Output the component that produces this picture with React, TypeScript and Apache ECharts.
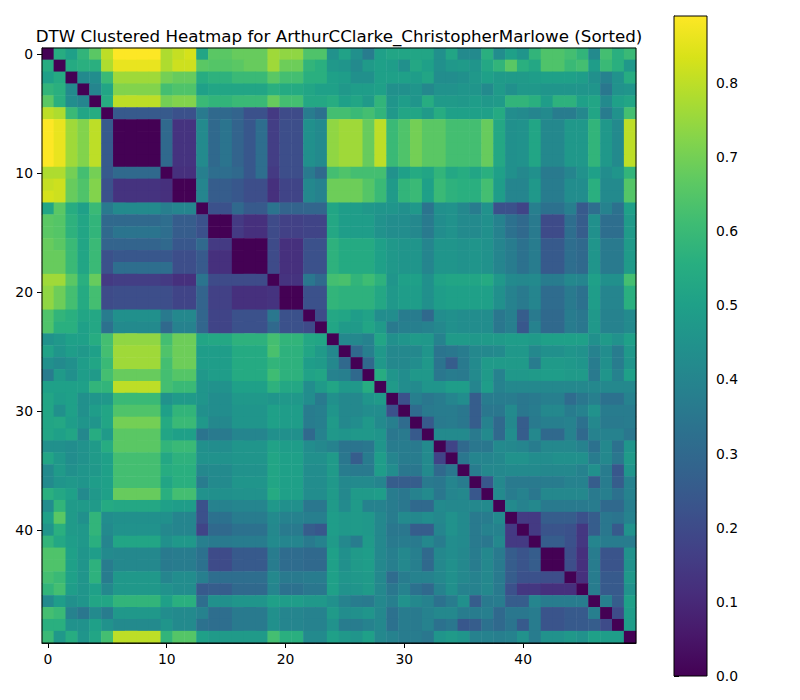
import React, { useEffect, useRef } from "react";
import * as echarts from "echarts";

const TITLE = "DTW Clustered Heatmap for ArthurCClarke_ChristopherMarlowe (Sorted)";
const categories: string[] = Array.from({ length: 50 }, (_, i) => String(i));
const colorbarTicks = [0, 0.1, 0.2, 0.3, 0.4, 0.5, 0.6, 0.7, 0.8];

// Upper triangle of the symmetric DTW distance matrix: row i lists columns i..49
const r00 = [0, .55, .50, .58, .66, .80, .89, .89, .89, .89, .78, .81, .83, .52, .66, .66, .68, .68, .68, .76, .74, .74, .64, .64, .45, .51, .44, .37, .50, .52, .52, .52, .52, .44, .52, .42, .42, .56, .43, .50, .46, .58, .64, .64, .62, .58, .42, .62, .56, .60];
const r01 = [0, .54, .56, .56, .78, .86, .86, .86, .86, .78, .82, .82, .66, .65, .65, .66, .68, .68, .76, .69, .69, .58, .56, .47, .46, .42, .48, .50, .49, .44, .53, .50, .44, .47, .48, .46, .53, .58, .66, .56, .53, .64, .64, .60, .62, .49, .60, .56, .47];
const r02 = [0, .42, .43, .60, .76, .76, .76, .76, .70, .68, .68, .55, .57, .57, .60, .60, .60, .66, .62, .62, .56, .56, .50, .49, .44, .44, .50, .50, .50, .49, .52, .43, .43, .44, .47, .50, .48, .48, .48, .49, .50, .50, .50, .49, .44, .39, .45, .55];
const r03 = [0, .40, .52, .72, .72, .72, .72, .62, .64, .64, .50, .52, .52, .52, .52, .52, .56, .54, .54, .52, .50, .50, .47, .49, .49, .50, .44, .44, .46, .41, .45, .45, .46, .46, .42, .48, .44, .47, .47, .46, .46, .46, .46, .46, .35, .45, .46];
const r04 = [0, .55, .80, .80, .80, .80, .70, .72, .72, .60, .58, .58, .60, .60, .60, .68, .62, .62, .53, .53, .55, .50, .52, .48, .58, .46, .49, .46, .55, .48, .48, .47, .49, .47, .48, .58, .58, .56, .49, .57, .57, .50, .52, .42, .50, .52];
const r05 = [0, .25, .25, .25, .25, .25, .22, .22, .36, .30, .30, .28, .22, .22, .15, .20, .20, .37, .33, .62, .62, .60, .62, .58, .47, .52, .52, .48, .55, .50, .50, .50, .50, .54, .43, .42, .40, .42, .37, .37, .41, .52, .37, .45, .62];
const r06 = [0, 0, 0, 0, .30, .13, .13, .42, .30, .34, .28, .24, .32, .16, .21, .21, .44, .42, .74, .76, .76, .68, .80, .60, .64, .70, .66, .66, .62, .62, .62, .68, .53, .44, .45, .52, .41, .41, .47, .47, .58, .47, .42, .80];
const r07 = [0, 0, 0, .30, .13, .13, .42, .30, .34, .28, .24, .32, .16, .21, .21, .44, .42, .74, .76, .76, .68, .80, .60, .64, .70, .66, .66, .62, .62, .62, .68, .53, .44, .45, .52, .41, .41, .47, .47, .58, .47, .42, .80];
const r08 = [0, 0, .30, .13, .13, .42, .30, .34, .28, .24, .32, .16, .21, .21, .44, .42, .74, .76, .76, .68, .80, .60, .64, .70, .66, .66, .62, .62, .62, .68, .53, .44, .45, .52, .41, .41, .47, .47, .58, .47, .42, .80];
const r09 = [0, .30, .13, .13, .42, .30, .34, .28, .24, .32, .16, .21, .21, .44, .42, .74, .76, .76, .68, .80, .60, .64, .70, .66, .66, .62, .62, .62, .68, .53, .44, .45, .52, .41, .41, .47, .47, .58, .47, .42, .80];
const r10 = [0, .12, .12, .38, .32, .32, .30, .24, .32, .15, .21, .21, .36, .30, .62, .64, .62, .62, .62, .45, .50, .54, .52, .58, .53, .55, .52, .56, .50, .44, .41, .44, .36, .36, .40, .45, .50, .43, .46, .58];
const r11 = [0, 0, .40, .26, .26, .24, .21, .21, .12, .18, .18, .41, .39, .69, .69, .69, .65, .60, .48, .58, .60, .50, .60, .57, .56, .56, .62, .49, .40, .40, .47, .37, .37, .43, .43, .56, .42, .42, .65];
const r12 = [0, .40, .26, .26, .24, .21, .21, .12, .18, .18, .41, .39, .69, .69, .69, .65, .60, .48, .58, .60, .50, .60, .57, .56, .56, .62, .49, .40, .40, .47, .37, .37, .43, .43, .56, .42, .42, .65];
const r13 = [0, .22, .22, .30, .25, .25, .34, .28, .28, .29, .29, .52, .49, .49, .47, .46, .46, .44, .47, .34, .44, .45, .41, .37, .45, .22, .22, .18, .38, .33, .33, .38, .25, .32, .39, .33, .50];
const r14 = [0, 0, .15, .12, .12, .20, .17, .17, .18, .18, .53, .49, .49, .49, .45, .43, .43, .41, .36, .43, .45, .42, .42, .44, .39, .33, .30, .36, .20, .20, .32, .26, .44, .32, .32, .48];
const r15 = [0, .15, .12, .12, .20, .17, .17, .18, .18, .53, .49, .49, .49, .45, .43, .43, .41, .36, .43, .45, .42, .42, .44, .39, .33, .30, .36, .20, .20, .32, .26, .44, .32, .32, .48];
const r16 = [0, 0, 0, .20, .12, .12, .22, .22, .57, .54, .54, .54, .50, .47, .46, .46, .40, .46, .46, .45, .46, .45, .40, .37, .33, .37, .25, .25, .32, .30, .46, .36, .36, .48];
const r17 = [0, 0, .20, .12, .12, .22, .22, .57, .54, .54, .54, .50, .47, .46, .46, .40, .46, .46, .45, .46, .45, .40, .37, .33, .37, .25, .25, .32, .30, .46, .36, .36, .48];
const r18 = [0, .20, .12, .12, .22, .22, .57, .54, .54, .54, .50, .47, .46, .46, .40, .46, .46, .45, .46, .45, .40, .37, .33, .37, .25, .25, .32, .30, .46, .36, .36, .48];
const r19 = [0, .13, .13, .35, .30, .62, .63, .58, .61, .57, .46, .50, .50, .44, .51, .52, .52, .52, .54, .47, .42, .41, .42, .37, .37, .41, .40, .50, .44, .44, .62];
const r20 = [0, 0, .22, .22, .58, .57, .57, .57, .53, .47, .49, .49, .44, .49, .50, .50, .50, .50, .44, .39, .36, .40, .31, .31, .36, .33, .49, .40, .40, .56];
const r21 = [0, .22, .22, .58, .57, .57, .57, .53, .47, .49, .49, .44, .49, .50, .50, .50, .50, .44, .39, .36, .40, .31, .31, .36, .33, .49, .40, .40, .56];
const r22 = [0, .20, .53, .52, .49, .51, .43, .43, .37, .37, .30, .43, .44, .43, .43, .43, .35, .38, .26, .36, .30, .30, .37, .35, .47, .39, .39, .42];
const r23 = [0, .52, .48, .48, .52, .48, .36, .38, .38, .39, .41, .44, .43, .43, .43, .35, .38, .24, .39, .30, .30, .37, .35, .47, .39, .39, .42];
const r24 = [0, .41, .41, .39, .52, .44, .46, .48, .47, .39, .48, .48, .47, .48, .48, .49, .49, .48, .50, .50, .50, .50, .44, .48, .45, .50];
const r25 = [0, .30, .38, .47, .41, .41, .41, .46, .34, .35, .37, .41, .41, .42, .47, .47, .41, .44, .44, .46, .45, .39, .43, .37, .47];
const r26 = [0, .30, .47, .41, .41, .43, .47, .34, .26, .36, .42, .48, .48, .48, .48, .37, .48, .48, .47, .46, .37, .44, .37, .46];
const r27 = [0, .55, .46, .43, .47, .47, .35, .37, .36, .42, .48, .39, .47, .47, .48, .49, .49, .48, .48, .36, .46, .39, .50];
const r28 = [0, .48, .43, .42, .46, .46, .49, .49, .40, .49, .39, .41, .41, .41, .41, .41, .41, .41, .41, .41, .41, .41];
const r29 = [0, .22, .38, .35, .37, .40, .43, .26, .37, .37, .37, .35, .36, .38, .38, .31, .35, .38, .33, .33, .39];
const r30 = [0, .31, .36, .37, .37, .35, .26, .35, .35, .42, .35, .37, .41, .41, .37, .39, .45, .37, .37, .37];
const r31 = [0, .25, .36, .37, .35, .26, .39, .30, .41, .26, .36, .38, .38, .39, .33, .41, .36, .36, .37];
const r32 = [0, .42, .42, .42, .36, .42, .30, .43, .26, .41, .30, .30, .39, .30, .39, .39, .39, .35];
const r33 = [0, .18, .30, .35, .35, .42, .41, .40, .37, .41, .41, .41, .39, .33, .41, .33, .46];
const r34 = [0, .35, .40, .40, .41, .45, .45, .43, .43, .44, .44, .44, .37, .41, .35, .48];
const r35 = [0, .37, .41, .41, .42, .42, .42, .41, .41, .41, .39, .44, .37, .24, .46];
const r36 = [0, .24, .41, .36, .36, .36, .37, .37, .39, .39, .26, .37, .26, .39];
const r37 = [0, .42, .37, .39, .35, .41, .41, .41, .41, .36, .38, .33, .39];
const r38 = [0, .42, .39, .41, .36, .36, .36, .36, .37, .30, .30, .38];
const r39 = [0, .15, .15, .26, .26, .26, .22, .26, .35, .34, .39];
const r40 = [0, .15, .23, .23, .22, .14, .26, .35, .25, .45];
const r41 = [0, .26, .26, .22, .14, .40, .37, .37, .37];
const r42 = [0, 0, .21, .12, .37, .23, .23, .45];
const r43 = [0, .21, .12, .37, .23, .23, .45];
const r44 = [0, .12, .37, .25, .25, .47];
const r45 = [0, .37, .25, .25, .45];
const r46 = [0, .38, .26, .50];
const r47 = [0, .20, .49];
const r48 = [0, .49];
const r49 = [0];

const upperRows = [r00, r01, r02, r03, r04, r05, r06, r07, r08, r09, r10, r11, r12, r13, r14, r15, r16, r17, r18, r19,
  r20, r21, r22, r23, r24, r25, r26, r27, r28, r29, r30, r31, r32, r33, r34, r35, r36, r37, r38, r39,
  r40, r41, r42, r43, r44, r45, r46, r47, r48, r49];

const VIRIDIS = ["#440154", "#48186a", "#472d7b", "#424086", "#3b528b", "#33638d", "#2c728e", "#26828e", "#21918c",
  "#1fa088", "#28ae80", "#3fbc73", "#5ec962", "#84d44b", "#addc30", "#d8e219", "#fde725"];

const FONT = "DejaVu Sans";

export default function App() {
  const ref = useRef<HTMLDivElement>(null);
  useEffect(() => {
    if (!ref.current) return;
    const n = categories.length;
    const full: number[][] = Array.from({ length: n }, () => new Array(n).fill(0));
    upperRows.forEach((row, i) => {
      row.forEach((v, k) => {
        const j = i + k;
        if (j < n) { full[i][j] = v; full[j][i] = v; }
      });
    });
    let vmax = 0;
    const data: number[][] = [];
    for (let i = 0; i < n; i++) for (let j = 0; j < n; j++) {
      data.push([j, i, full[i][j]]);
      if (full[i][j] > vmax) vmax = full[i][j];
    }
    const chart = echarts.init(ref.current, null, { renderer: "svg" });
    const tickFn = (idx: number) => idx % 10 === 0;
    const gx = 42, gy = 48, gw = 594, gh = 595;
    const cbx = 674, cby = 16, cbw = 33, cbh = 660;
    chart.setOption({
      animation: false,
      backgroundColor: "#ffffff",
      textStyle: { fontFamily: FONT },
      grid: [
        { left: gx, top: gy, width: gw, height: gh },
        { left: cbx, top: cby, width: cbw, height: cbh },
      ],
      xAxis: [
        {
          type: "category", data: categories, gridIndex: 0,
          axisLine: { show: true, lineStyle: { color: "#000", width: 1 } },
          axisTick: { show: true, alignWithLabel: true, interval: tickFn, length: 5, lineStyle: { color: "#000" } },
          axisLabel: { interval: tickFn, color: "#000", fontSize: 13.9, fontFamily: FONT, margin: 9 },
          splitLine: { show: false },
        },
        { type: "value", gridIndex: 1, show: false, min: 0, max: 1 },
      ],
      yAxis: [
        {
          type: "category", data: categories, gridIndex: 0, inverse: true,
          axisLine: { show: true, lineStyle: { color: "#000", width: 1 } },
          axisTick: { show: true, alignWithLabel: true, interval: tickFn, length: 5, lineStyle: { color: "#000" } },
          axisLabel: { interval: tickFn, color: "#000", fontSize: 13.9, fontFamily: FONT, margin: 9 },
          splitLine: { show: false },
        },
        {
          type: "value", gridIndex: 1, position: "right", min: 0, max: vmax,
          axisLine: { show: true, lineStyle: { color: "#000", width: 1 } },
          axisTick: { show: true, length: 5, lineStyle: { color: "#000" }, customValues: colorbarTicks },
          axisLabel: {
            color: "#000", fontSize: 13.9, fontFamily: FONT, margin: 9,
            customValues: colorbarTicks,
            formatter: (v: number) => v.toFixed(1),
          },
          splitLine: { show: false },
        },
      ],
      visualMap: {
        show: false, type: "continuous", min: 0, max: vmax, dimension: 2, seriesIndex: 0,
        inRange: { color: VIRIDIS },
      },
      series: [
        {
          type: "heatmap", xAxisIndex: 0, yAxisIndex: 0, data, progressive: 0,
          itemStyle: { borderWidth: 0 }, emphasis: { disabled: true },
        },
        { type: "line", xAxisIndex: 1, yAxisIndex: 1, data: [], silent: true },
      ],
      graphic: [
        {
          type: "rect", shape: { x: gx, y: gy, width: gw, height: gh }, z: 100, silent: true,
          style: { fill: "none", stroke: "#000", lineWidth: 1 },
        },
        {
          type: "rect", shape: { x: cbx, y: cby, width: cbw, height: cbh }, z: 5, silent: true,
          style: {
            fill: new echarts.graphic.LinearGradient(0, 1, 0, 0,
              VIRIDIS.map((c, i) => ({ offset: i / (VIRIDIS.length - 1), color: c }))),
            stroke: "#000", lineWidth: 1,
          },
        },
        {
          type: "text", x: gx + gw / 2, y: 36, z: 100,
          style: { text: TITLE, fill: "#000", font: `16.7px "${FONT}"`, textAlign: "center", textVerticalAlign: "middle" },
        },
      ],
    });
    return () => chart.dispose();
  }, []);
  return <div ref={ref} style={{ position: "absolute", left: 0, top: 0, width: 800, height: 700 }} />;
}
